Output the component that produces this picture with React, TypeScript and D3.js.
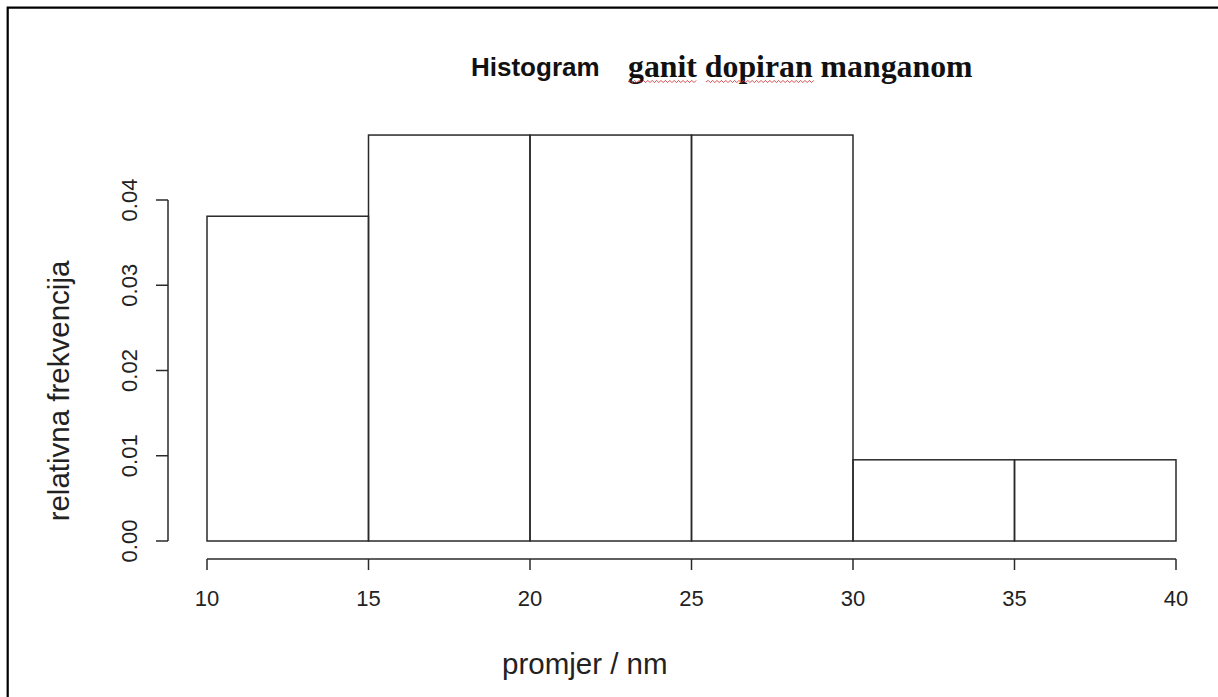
import React from "react";
import * as d3 from "d3";

const breaks = [10, 15, 20, 25, 30, 35, 40];
const counts = [4, 5, 5, 5, 1, 1];
const xTicks = [10, 15, 20, 25, 30, 35, 40];
const yTicks = [0, 0.01, 0.02, 0.03, 0.04];
const yTickLabels = ["0.00", "0.01", "0.02", "0.03", "0.04"];
const titleLeft = "Histogram";
const titleRight = "ganit dopiran manganom";
const xLabel = "promjer / nm";
const yLabel = "relativna frekvencija";

const W = 1218;
const H = 697;

function squiggle(x0: number, x1: number, y: number) {
  const step = 2.2;
  let d = `M${x0},${y}`;
  let up = true;
  for (let x = x0 + step; x <= x1; x += step) {
    d += ` L${x.toFixed(1)},${(up ? y - 1.6 : y + 0.6).toFixed(1)}`;
    up = !up;
  }
  return d;
}

export default function App() {
  const total = d3.sum(counts);
  const binW = breaks[1] - breaks[0];
  const dens = counts.map((c) => c / (total * binW));

  const x = d3.scaleLinear().domain([10, 40]).range([207, 1176]);
  const y = d3.scaleLinear().domain([0, 0.04]).range([541, 200]);

  const ink = "#2a2a2a";
  const sans = "'Liberation Sans', Arial, sans-serif";
  const serif = "'Liberation Serif', 'Times New Roman', serif";
  const xAxisY = 559;
  const yAxisX = 168;

  return (
    <svg
      width={W}
      height={H}
      style={{ position: "absolute", left: 0, top: 0, display: "block", background: "#fff" }}
    >
      <rect x={0} y={0} width={W} height={H} fill="#fff" />
      <path d={`M7.7,${H} L7.7,7.7 L${W},7.7`} fill="none" stroke="#000" strokeWidth={2.2} />

      {/* title */}
      <text x={471} y={76} fontFamily={sans} fontWeight="bold" fontSize={26} fill="#111">
        {titleLeft}
      </text>
      <text x={628} y={77} fontFamily={serif} fontWeight="bold" fontSize={31.8} fill="#111">
        {titleRight}
      </text>
      <path d={squiggle(628, 698, 82)} fill="none" stroke="#d23a3a" strokeWidth={0.9} />
      <path d={squiggle(706, 816, 82)} fill="none" stroke="#d23a3a" strokeWidth={0.9} />

      {/* bars */}
      {dens.map((v, i) => (
        <rect
          key={i}
          x={x(breaks[i])}
          y={y(v)}
          width={x(breaks[i + 1]) - x(breaks[i])}
          height={y(0) - y(v)}
          fill="none"
          stroke={ink}
          strokeWidth={1.5}
        />
      ))}

      {/* x axis */}
      <line x1={x(xTicks[0])} x2={x(xTicks[xTicks.length - 1])} y1={xAxisY} y2={xAxisY} stroke={ink} strokeWidth={1.5} />
      {xTicks.map((t) => (
        <g key={t}>
          <line x1={x(t)} x2={x(t)} y1={xAxisY} y2={xAxisY + 11} stroke={ink} strokeWidth={1.5} />
          <text x={x(t)} y={606} textAnchor="middle" fontFamily={sans} fontSize={22} fill="#222">
            {t}
          </text>
        </g>
      ))}

      {/* y axis */}
      <line x1={yAxisX} x2={yAxisX} y1={y(0)} y2={y(0.04)} stroke={ink} strokeWidth={1.5} />
      {yTicks.map((t, i) => (
        <g key={t}>
          <line x1={yAxisX} x2={yAxisX - 12} y1={y(t)} y2={y(t)} stroke={ink} strokeWidth={1.5} />
          <text
            transform={`translate(137,${y(t)}) rotate(-90)`}
            textAnchor="middle"
            fontFamily={sans}
            fontSize={22}
            fill="#222"
          >
            {yTickLabels[i]}
          </text>
        </g>
      ))}

      {/* axis labels */}
      <text x={502} y={674} fontFamily={sans} fontSize={29.5} fill="#222">
        {xLabel}
      </text>
      <text
        transform={`translate(69,391) rotate(-90)`}
        textAnchor="middle"
        fontFamily={sans}
        fontSize={29.5}
        fill="#222"
      >
        {yLabel}
      </text>
    </svg>
  );
}
